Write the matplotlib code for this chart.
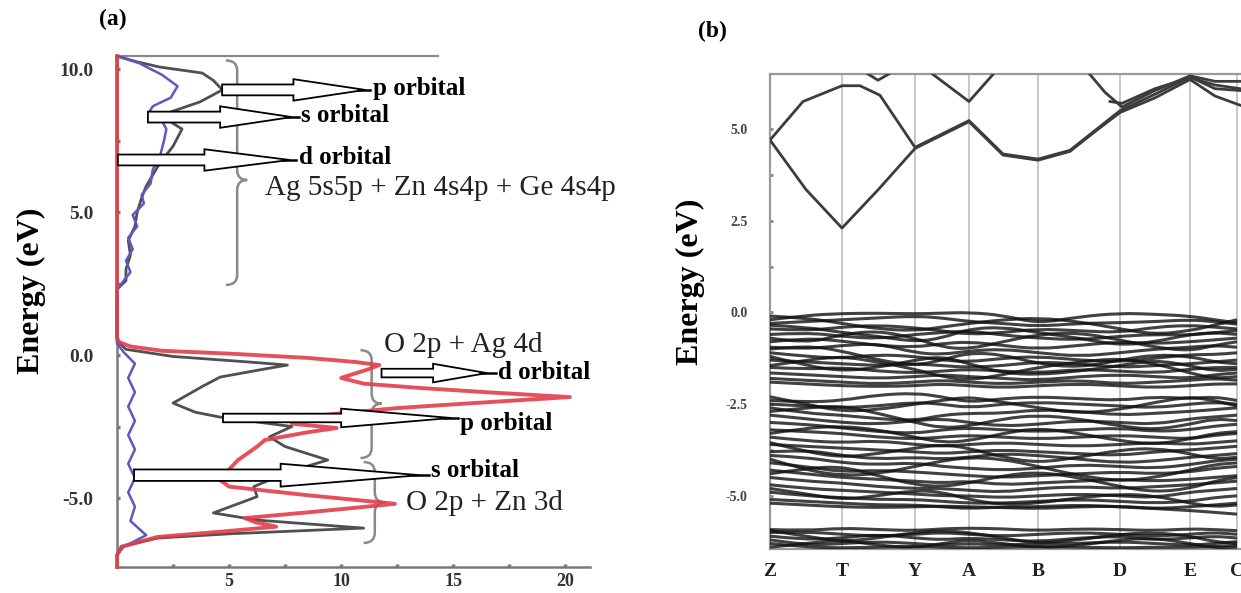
import numpy as np
import matplotlib
matplotlib.use("Agg")
import matplotlib.pyplot as plt
from matplotlib.patches import FancyArrow, PathPatch
from matplotlib.path import Path

plt.rcParams["font.family"] = ["Liberation Serif", "DejaVu Serif"]

# ---------------- panel (a): partial DOS ----------------
# red curve (x = DOS, E = energy)
red_E = [10.45, 0.6, 0.45, 0.3, 0.15, 0.05, -0.1, -0.24, -0.35, -0.5, -0.8, -1.0, -1.15,
         -1.3, -1.47, -1.6, -1.75, -1.86, -2.0, -2.17, -2.4, -2.55, -2.7, -2.97, -3.2,
         -3.67, -4.0, -4.37, -4.6, -4.9, -5.2, -5.35, -5.5, -5.7, -5.85, -6.0, -6.15,
         -6.36, -6.7, -7.0, -7.41]
red_x = [0, 0, 0.1, 0.6, 2.0, 5.0, 8.5, 10.6, 11.7, 11.2, 10.0, 11.0, 13.5,
         16.5, 20.2, 17.5, 14.5, 12.4, 10.5, 8.2, 7.8, 9.8, 8.5, 6.6, 6.25,
         5.4, 5.0, 4.6, 5.0, 8.5, 12.4, 10.5, 8.5, 5.7, 6.2, 7.1, 5.0,
         1.8, 0.2, 0, 0]

# gray curve
gray_E = [10.45, 10.25, 10.07, 9.86, 9.6, 9.27, 8.85, 8.5, 8.2, 7.9, 7.3, 6.7, 6.3, 5.9,
          5.5, 5.0, 4.5, 4.0, 3.5, 3.0, 2.6, 2.3,
          0.5, 0.2, -0.05, -0.25, -0.35, -0.5, -0.77, -1.1, -1.68, -2.0, -2.17, -2.5,
          -2.86, -3.2, -3.67, -4.0, -4.27, -4.6, -4.95, -5.52, -5.77, -6.05, -6.25,
          -6.4, -6.7, -7.0]
gray_x = [0, 0.9, 1.9, 3.8, 4.3, 4.7, 3.7, 2.4, 2.3, 2.9, 2.5, 1.9, 1.6, 1.3,
          1.1, 0.9, 0.8, 0.5, 0.6, 0.4, 0.4, 0,
          0, 0.4, 2.5, 6.0, 7.6, 6.5, 4.6, 3.8, 2.5, 3.5, 4.6, 7.8,
          6.8, 7.5, 9.4, 8.0, 7.1, 6.1, 6.25, 4.3, 6.25, 11.0, 5.0,
          1.8, 0.2, 0]

# blue curve
blue_E = [10.45, 10.2, 9.8, 9.4, 9.0, 8.7, 8.45, 8.2, 7.9, 7.5, 6.9, 6.5, 6.0, 5.6, 5.3,
          4.9, 4.5, 4.1, 3.7, 3.3, 2.9, 2.6, 2.3,
          0.4, 0.1, -0.3, -0.8, -1.3, -1.8, -2.3, -2.8, -3.3, -3.8, -4.3, -4.8,
          -5.3, -5.8, -6.3, -6.7, -7.0]
blue_x = [0, 1.0, 2.0, 2.7, 2.4, 1.6, 1.4, 2.0, 2.2, 2.1, 1.9, 1.6, 1.5, 1.1, 1.2,
          0.7, 0.9, 0.5, 0.7, 0.4, 0.6, 0.3, 0,
          0, 0.3, 0.8, 0.5, 0.8, 0.5, 0.8, 0.5, 0.8, 0.5, 0.8, 0.5,
          0.8, 0.6, 1.3, 0.3, 0]

# arrows
arrow_tail = [4.69, 1.38, 0.04, 11.8, 4.73, 0.76]
arrow_tip = [11.07, 7.8, 7.7, 16.5, 14.9, 13.5]
arrow_E = [9.27, 8.32, 6.82, -0.63, -2.2, -4.2]
arrow_shaft = [0.38, 0.38, 0.38, 0.30, 0.30, 0.40]
arrow_head = [0.75, 0.75, 0.75, 0.65, 0.65, 0.8]
arrow_hlen = [3.2, 3.2, 3.8, 2.4, 4.9, 6.2]
arrow_label = ["p orbital", "s orbital", "d orbital", "d orbital", "p orbital", "s orbital"]
label_x = [11.4, 8.2, 8.1, 17.0, 15.3, 14.0]
label_E = [9.33, 8.36, 6.92, -0.6, -2.38, -4.02]

# braces
brace_x = [5.36, 11.36, 11.5]
brace_top = [10.3, 0.17, -3.74]
brace_bot = [2.45, -3.6, -6.57]
brace_tip = [6.12, -1.7, -5.15]

# group texts
group_text = ["Ag 5s5p + Zn 4s4p + Ge 4s4p", "O 2p + Ag 4d", "O 2p + Zn 3d"]
group_x = [6.6, 11.9, 12.9]
group_E = [5.85, 0.35, -5.17]

# ---------------- panel (b): band structure ----------------
kpt_labels = ["Z", "T", "Y", "A", "B", "D", "E", "C"]
kpt_pos = [0, 72, 145, 199, 268, 350, 420, 467]

# conduction bands (k, E)
cb_k = [
    [0, 36, 72, 108, 145, 199, 233, 268, 300, 325, 350, 385, 420, 445, 470],
    [0, 33, 72, 90, 110, 145, 199, 233, 268, 300, 325, 350, 385, 420, 445, 470],
    [318, 335, 352, 385, 420, 445, 470],
    [340, 352, 385, 420, 445, 470],
    [160, 199, 225],
    [95, 108, 122],
]
cb_E = [
    [4.7, 3.35, 2.3, 3.34, 4.47, 5.2, 4.29, 4.15, 4.39, 4.93, 5.45, 5.85, 6.35, 5.9, 5.65],
    [4.7, 5.75, 6.18, 6.18, 5.92, 4.5, 5.23, 4.32, 4.18, 4.42, 4.96, 5.5, 5.95, 6.42, 6.1, 6.05],
    [6.55, 6.0, 5.6, 6.05, 6.45, 6.3, 6.3],
    [5.75, 5.7, 6.1, 6.4, 6.2, 6.1],
    [6.55, 5.75, 6.55],
    [6.55, 6.33, 6.55],
]

# valence bands sampled at these k values
vb_k = [0, 36, 72, 108, 145, 172, 199, 233, 268, 309, 350, 385, 420, 444, 467]
vb_E = [
    [-0.2, -0.08, -0.03, -0.02, -0.04, -0.02, 0.0, -0.08, -0.3, -0.12, -0.02, -0.05, -0.1, -0.2, -0.28],
    [-0.3, -0.25, -0.2, -0.15, -0.1, -0.15, -0.25, -0.3, -0.38, -0.3, -0.28, -0.25, -0.2, -0.25, -0.32],
    [-0.1, -0.15, -0.3, -0.45, -0.5, -0.4, -0.3, -0.2, -0.15, -0.25, -0.45, -0.6, -0.5, -0.35, -0.2],
    [-0.45, -0.5, -0.4, -0.35, -0.42, -0.5, -0.6, -0.55, -0.45, -0.5, -0.55, -0.4, -0.35, -0.4, -0.45],
    [-0.35, -0.4, -0.55, -0.65, -0.8, -0.7, -0.45, -0.4, -0.55, -0.7, -0.9, -0.8, -0.6, -0.55, -0.6],
    [-0.6, -0.55, -0.65, -0.72, -0.6, -0.55, -0.5, -0.62, -0.7, -0.75, -0.65, -0.6, -0.62, -0.55, -0.5],
    [-0.7, -0.85, -0.6, -0.5, -0.7, -0.95, -1.0, -0.8, -0.6, -0.55, -0.75, -0.95, -1.05, -0.9, -0.8],
    [-0.8, -0.7, -0.78, -0.9, -0.95, -0.85, -0.8, -0.9, -1.0, -0.9, -0.8, -0.85, -0.8, -0.75, -0.7],
    [-0.95, -1.0, -0.9, -0.85, -1.1, -1.15, -1.05, -1.0, -1.1, -1.2, -1.1, -1.0, -0.95, -0.9, -0.95],
    [-1.0, -0.9, -1.05, -1.3, -1.45, -1.3, -1.1, -1.15, -1.4, -1.5, -1.3, -1.15, -1.2, -1.35, -1.4],
    [-1.1, -1.2, -1.25, -1.15, -1.2, -1.3, -1.35, -1.25, -1.2, -1.3, -1.35, -1.25, -1.15, -1.15, -1.1],
    [-1.2, -1.45, -1.6, -1.5, -1.3, -1.2, -1.4, -1.65, -1.7, -1.6, -1.45, -1.3, -1.45, -1.6, -1.55],
    [-1.3, -1.35, -1.4, -1.45, -1.4, -1.45, -1.5, -1.45, -1.35, -1.4, -1.5, -1.45, -1.4, -1.35, -1.3],
    [-1.45, -1.3, -1.2, -1.35, -1.55, -1.75, -1.85, -1.7, -1.5, -1.35, -1.25, -1.4, -1.65, -1.8, -1.75],
    [-1.5, -1.55, -1.5, -1.6, -1.65, -1.6, -1.55, -1.6, -1.65, -1.55, -1.6, -1.65, -1.55, -1.5, -1.5],
    [-1.65, -1.7, -1.75, -1.8, -1.75, -1.7, -1.75, -1.8, -1.85, -1.75, -1.7, -1.75, -1.8, -1.7, -1.65],
    [-1.8, -1.85, -1.9, -1.95, -1.9, -1.85, -1.9, -1.95, -1.9, -1.85, -1.95, -1.9, -1.85, -1.8, -1.85],
    [-1.9, -1.95, -2.0, -2.02, -2.0, -1.95, -2.0, -2.05, -2.0, -1.95, -2.0, -2.05, -2.0, -1.95, -1.95],
    [-2.4, -2.45, -2.4, -2.25, -2.2, -2.3, -2.45, -2.35, -2.3, -2.35, -2.4, -2.3, -2.35, -2.3, -2.4],
    [-2.3, -2.5, -2.7, -2.65, -2.5, -2.4, -2.3, -2.45, -2.6, -2.75, -2.65, -2.45, -2.3, -2.4, -2.55],
    [-2.5, -2.55, -2.6, -2.55, -2.45, -2.5, -2.6, -2.5, -2.45, -2.5, -2.55, -2.6, -2.5, -2.45, -2.5],
    [-2.6, -2.75, -2.8, -2.9, -2.95, -2.8, -2.75, -2.75, -2.65, -2.7, -2.8, -2.75, -2.7, -2.65, -2.6],
    [-2.7, -2.6, -2.55, -2.75, -3.0, -3.15, -3.1, -2.9, -2.8, -2.9, -3.1, -3.2, -3.05, -2.9, -2.95],
    [-2.8, -2.9, -3.0, -3.05, -2.95, -2.9, -3.0, -3.1, -3.05, -2.95, -3.0, -3.05, -2.9, -2.85, -2.8],
    [-3.0, -3.05, -3.15, -3.25, -3.3, -3.2, -3.15, -3.2, -3.25, -3.2, -3.15, -3.25, -3.2, -3.1, -3.05],
    [-3.2, -3.25, -3.3, -3.4, -3.45, -3.4, -3.35, -3.4, -3.45, -3.4, -3.35, -3.4, -3.45, -3.35, -3.3],
    [-3.3, -3.15, -3.1, -3.2, -3.4, -3.55, -3.5, -3.3, -3.15, -3.3, -3.5, -3.6, -3.45, -3.3, -3.25],
    [-3.4, -3.5, -3.55, -3.5, -3.6, -3.65, -3.6, -3.55, -3.6, -3.65, -3.6, -3.55, -3.6, -3.55, -3.5],
    [-3.55, -3.8, -3.95, -3.85, -3.7, -3.6, -3.7, -3.95, -4.1, -3.95, -3.75, -3.7, -3.85, -4.0, -3.95],
    [-3.6, -3.65, -3.7, -3.75, -3.8, -3.85, -3.8, -3.75, -3.8, -3.85, -3.9, -3.8, -3.75, -3.7, -3.65],
    [-3.8, -3.75, -3.9, -4.0, -3.95, -4.0, -3.95, -3.85, -3.9, -4.0, -4.1, -4.05, -3.95, -3.9, -3.85],
    [-3.9, -3.95, -4.1, -4.15, -4.1, -4.2, -4.25, -4.3, -4.25, -4.15, -4.2, -4.25, -4.15, -4.05, -4.0],
    [-4.0, -4.3, -4.45, -4.4, -4.2, -4.05, -3.95, -4.0, -4.2, -4.45, -4.6, -4.5, -4.3, -4.15, -4.1],
    [-4.1, -4.2, -4.35, -4.3, -4.35, -4.4, -4.45, -4.5, -4.45, -4.4, -4.35, -4.4, -4.35, -4.25, -4.2],
    [-4.3, -4.4, -4.5, -4.55, -4.6, -4.65, -4.6, -4.7, -4.65, -4.6, -4.55, -4.6, -4.55, -4.5, -4.45],
    [-4.4, -4.25, -4.2, -4.45, -4.7, -4.75, -4.65, -4.45, -4.35, -4.5, -4.75, -4.9, -4.8, -4.6, -4.5],
    [-4.5, -4.6, -4.65, -4.75, -4.8, -4.8, -4.85, -4.9, -4.8, -4.75, -4.8, -4.75, -4.7, -4.65, -4.6],
    [-4.7, -4.8, -4.85, -4.9, -4.95, -5.0, -5.0, -5.05, -5.0, -4.95, -5.0, -5.05, -4.9, -4.85, -4.8],
    [-4.8, -4.95, -5.1, -5.0, -4.85, -4.9, -5.1, -5.25, -5.2, -5.05, -4.95, -5.0, -5.2, -5.3, -5.25],
    [-4.9, -5.0, -5.05, -5.1, -5.1, -5.15, -5.2, -5.2, -5.15, -5.1, -5.15, -5.2, -5.15, -5.05, -5.0],
    [-5.1, -5.15, -5.2, -5.25, -5.25, -5.3, -5.35, -5.3, -5.3, -5.25, -5.3, -5.35, -5.3, -5.25, -5.2],
    [-5.2, -5.25, -5.3, -5.32, -5.3, -5.28, -5.3, -5.32, -5.35, -5.3, -5.28, -5.35, -5.4, -5.45, -5.5],
    [-5.92, -5.95, -5.88, -5.92, -5.95, -5.9, -5.88, -5.9, -5.95, -5.9, -5.92, -5.95, -5.9, -5.92, -5.95],
    [-5.95, -6.1, -6.25, -6.15, -6.0, -5.95, -6.0, -6.15, -6.3, -6.2, -6.05, -6.0, -6.1, -6.25, -6.3],
    [-6.0, -5.98, -6.05, -6.1, -6.05, -6.0, -6.05, -6.1, -6.05, -6.0, -6.05, -6.1, -6.05, -6.0, -6.05],
    [-6.1, -6.2, -6.15, -6.05, -6.15, -6.2, -6.15, -6.2, -6.25, -6.15, -6.1, -6.2, -6.15, -6.1, -6.15],
    [-6.2, -6.35, -6.3, -6.25, -6.3, -6.35, -6.3, -6.35, -6.3, -6.3, -6.25, -6.3, -6.35, -6.3, -6.25],
    [-6.3, -6.4, -6.42, -6.4, -6.38, -6.4, -6.42, -6.4, -6.38, -6.4, -6.42, -6.4, -6.4, -6.38, -6.35],
    [-6.4, -6.3, -6.2, -6.35, -6.42, -6.3, -6.2, -6.3, -6.42, -6.35, -6.2, -6.15, -6.3, -6.42, -6.4],
]

W, H = 1241, 593
fig = plt.figure(figsize=(W / 100, H / 100), dpi=100)


def fx(px):
    return px / W


def fy(py):
    return 1 - py / H


def smooth_line(ax, xs, ys, **kw):
    # quadratic bezier path through midpoints of the samples
    pts = list(zip(xs, ys))
    verts = [pts[0]]
    codes = [Path.MOVETO]
    for i in range(1, len(pts) - 1):
        mid = ((pts[i][0] + pts[i + 1][0]) / 2, (pts[i][1] + pts[i + 1][1]) / 2)
        verts += [pts[i], mid]
        codes += [Path.CURVE3, Path.CURVE3]
    verts.append(pts[-1])
    codes.append(Path.LINETO)
    ax.add_patch(PathPatch(Path(verts, codes), fill=False, **kw))


def brace(ax, x, top, bot, tip, d_out=0.5, d_tip=0.45, r=0.35, **kw):
    verts = [(x - d_out, top), (x, top), (x, top - r), (x, tip + r),
             (x, tip), (x + d_tip, tip), (x, tip), (x, tip - r),
             (x, bot + r), (x, bot), (x - d_out, bot)]
    codes = [Path.MOVETO, Path.CURVE3, Path.CURVE3, Path.LINETO,
             Path.CURVE3, Path.CURVE3, Path.CURVE3, Path.CURVE3,
             Path.LINETO, Path.CURVE3, Path.CURVE3]
    ax.add_patch(PathPatch(Path(verts, codes), fill=False, **kw))


# ---- panel (a)
axa = fig.add_axes([fx(117), fy(567), fx(590 - 117), (567 - 55) / H])
axa.set_xlim(0, 21.1)
axa.set_ylim(-7.41, 10.49)
for s in ["top", "right"]:
    axa.spines[s].set_visible(False)
for s in ["left", "bottom"]:
    axa.spines[s].set_color("#7a7a7a")
    axa.spines[s].set_linewidth(1.8)
axa.plot([0, 14.3], [10.45, 10.45], color="#8a8a8a", lw=1.6, clip_on=False)

axa.plot(gray_x, gray_E, color="#505050", lw=2.0, zorder=3, clip_on=False)
axa.plot(blue_x, blue_E, color="#5a5ac0", lw=1.8, zorder=3, clip_on=False)
axa.plot(red_x, red_E, color="#e23e4b", lw=2.8, zorder=4, alpha=0.9, clip_on=False)

for i in range(len(brace_x)):
    brace(axa, brace_x[i], brace_top[i], brace_bot[i], brace_tip[i],
          edgecolor="#8a8a8a", lw=1.8, zorder=2)

for i in range(len(arrow_tail)):
    axa.add_patch(FancyArrow(arrow_tail[i], arrow_E[i], arrow_tip[i] - arrow_tail[i], 0,
                             width=arrow_shaft[i], head_width=arrow_head[i],
                             head_length=arrow_hlen[i], length_includes_head=True,
                             facecolor="white", edgecolor="black", lw=1.3, zorder=6))
    axa.plot([arrow_tip[i] - 0.3, label_x[i] - 0.1], [arrow_E[i], arrow_E[i]],
             color="black", lw=1.8, zorder=6)
    axa.text(label_x[i], label_E[i], arrow_label[i], fontsize=18, fontweight="bold",
             ha="left", va="center", zorder=7)

for i in range(len(group_text)):
    axa.text(group_x[i], group_E[i], group_text[i], fontsize=21, ha="left",
             va="center", color="#222222", zorder=7)

axa.set_yticks([-5, 0, 5, 10])
axa.set_yticklabels(["-5.0", "0.0", "5.0", "10.0"])
axa.set_yticks([-2.5, 2.5, 7.5], minor=True)
axa.set_xticks([5, 10, 15, 20])
axa.set_xticklabels(["5", "10", "15", "20"])
axa.set_xticks([2.5, 7.5, 12.5, 17.5], minor=True)
axa.tick_params(which="both", direction="in", length=2, width=2.5, color="#777777",
                labelcolor="#333333")
axa.tick_params(axis="y", pad=17, labelsize=14)
axa.tick_params(axis="x", pad=4, labelsize=13)
for lab in axa.get_xticklabels() + axa.get_yticklabels():
    lab.set_fontweight("bold")

# ---- panel (b)
axb = fig.add_axes([fx(770), fy(549), fx(1241 - 770), (549 - 74) / H])
axb.set_xlim(0, 471)
axb.set_ylim(-6.45, 6.5)
axb.spines["right"].set_visible(False)
for s in ["left", "top", "bottom"]:
    axb.spines[s].set_color("#9a9a9a")
    axb.spines[s].set_linewidth(1.6)
for k in kpt_pos[1:]:
    axb.axvline(k, color="#c4c4c4", lw=1.3, zorder=1)

for ks, es in zip(cb_k, cb_E):
    axb.plot(ks, es, color="#3c3c3c", lw=2.0, zorder=3)
for es in vb_E:
    smooth_line(axb, vb_k, es, edgecolor="#111111", lw=2.2, alpha=0.8, zorder=3)

axb.set_xticks(kpt_pos)
axb.set_xticklabels(kpt_labels)
axb.tick_params(axis="x", length=0, labelsize=14, pad=10, labelcolor="#222222")
axb.set_yticks([-5, -2.5, 0, 2.5, 5])
axb.set_yticklabels(["-5.0", "-2.5", "0.0", "2.5", "5.0"])
axb.set_yticks([-3.75, -1.25, 1.25, 3.75], minor=True)
axb.tick_params(axis="y", which="both", direction="in", length=2, width=2,
                color="#888888", labelsize=10, labelcolor="#444444", pad=16)
for lab in axb.get_xticklabels() + axb.get_yticklabels():
    lab.set_fontweight("bold")

# labels
fig.text(fx(113), fy(19), "(a)", fontsize=17, fontweight="bold", ha="center", va="center")
fig.text(fx(712), fy(31), "(b)", fontsize=17, fontweight="bold", ha="center", va="center")
fig.text(fx(31), fy(291), "Energy (eV)", rotation=90, fontsize=23, fontweight="bold",
         ha="center", va="center")
fig.text(fx(690), fy(282), "Energy (eV)", rotation=90, fontsize=23, fontweight="bold",
         ha="center", va="center")

fig.savefig("out.png", dpi=100)
